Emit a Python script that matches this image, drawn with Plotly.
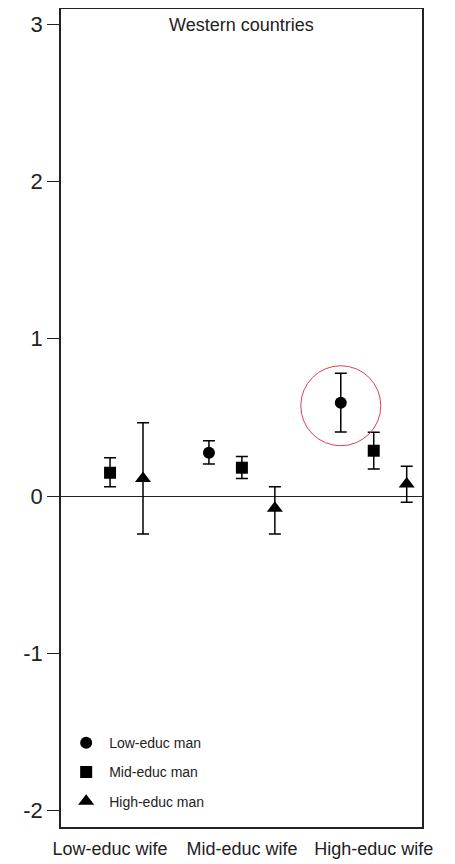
import plotly.graph_objects as go

# ---- data ----
wife_categories = ["Low-educ wife", "Mid-educ wife", "High-educ wife"]
series_names = ["Low-educ man", "Mid-educ man", "High-educ man"]

low_man_est = [None, 0.275, 0.593]
low_man_hi = [None, 0.352, 0.780]
low_man_lo = [None, 0.203, 0.407]

mid_man_est = [0.148, 0.180, 0.288]
mid_man_hi = [0.243, 0.252, 0.405]
mid_man_lo = [0.059, 0.112, 0.172]

high_man_est = [0.112, -0.078, 0.076]
high_man_hi = [0.466, 0.059, 0.190]
high_man_lo = [-0.242, -0.242, -0.040]

y_tick_vals = [3, 2, 1, 0, -1, -2]
y_tick_text = ["3", "2", "1", "0", "-1", "-2"]

panel_title = "Western countries"
highlight_series = 0
highlight_category = 2

# ---- figure ----
FONT = "Liberation Sans, Arial, sans-serif"
offsets = [-0.25, 0.0, 0.25]
symbols = ["circle", "square", "triangle-up"]
sizes = [12, 12, 14]
ests = [low_man_est, mid_man_est, high_man_est]
his = [low_man_hi, mid_man_hi, high_man_hi]
los = [low_man_lo, mid_man_lo, high_man_lo]

fig = go.Figure()
for s in range(3):
    xs, ys, up, dn = [], [], [], []
    for c in range(len(wife_categories)):
        v = ests[s][c]
        xs.append(c + 1 + offsets[s])
        if v is None:
            ys.append(None); up.append(None); dn.append(None)
        else:
            ys.append(v); up.append(his[s][c] - v); dn.append(v - los[s][c])
    fig.add_trace(go.Scatter(
        x=xs, y=ys, mode="markers", name=series_names[s],
        legendgroup=series_names[s],
        marker=dict(symbol=symbols[s], size=sizes[s], color="black"),
        error_y=dict(type="data", array=up, arrayminus=dn, symmetric=False,
                     color="black", thickness=1.5, width=6),
    ))

# highlight circle around a point
hx = highlight_category + 1 + offsets[highlight_series]
hy = ests[highlight_series][highlight_category]
fig.add_shape(type="circle", xref="x", yref="y", xsizemode="pixel", ysizemode="pixel",
              xanchor=hx, yanchor=hy, x0=-40, x1=40, y0=-43, y1=37,
              line=dict(color="#e0404f", width=1))

fig.add_annotation(text=panel_title, xref="paper", yref="paper", x=0.5, y=0.980,
                   xanchor="center", yanchor="middle", showarrow=False,
                   font=dict(family=FONT, size=18, color="#222"))

fig.update_layout(
    width=447, height=856,
    margin=dict(l=53, r=33, t=1, b=37),
    paper_bgcolor="white", plot_bgcolor="white",
    font=dict(family=FONT, color="#222"),
    showlegend=True,
    legend=dict(x=0.006, y=0.012, xanchor="left", yanchor="bottom",
                bgcolor="rgba(0,0,0,0)", font=dict(size=14, color="#222"),
                itemwidth=36, tracegroupgap=8, traceorder="grouped"),
    xaxis=dict(range=[0.628, 3.366], tickvals=[1, 2, 3], ticktext=wife_categories,
               showgrid=False, zeroline=False, ticks="", showline=True, mirror=True,
               linecolor="#222", linewidth=1.5, automargin=False,
               tickfont=dict(family=FONT, size=18, color="#222"),
               ticklabelstandoff=5),
    yaxis=dict(range=[-2.104, 3.096], tickvals=y_tick_vals, ticktext=y_tick_text,
               showgrid=False, zeroline=True, zerolinecolor="#222", zerolinewidth=1.2,
               ticks="outside", ticklen=12, tickwidth=1.2, tickcolor="#222",
               showline=True, mirror=True, linecolor="#222", linewidth=1.5,
               automargin=False, tickfont=dict(family=FONT, size=22, color="#222")),
)

fig.write_html("out.html")
